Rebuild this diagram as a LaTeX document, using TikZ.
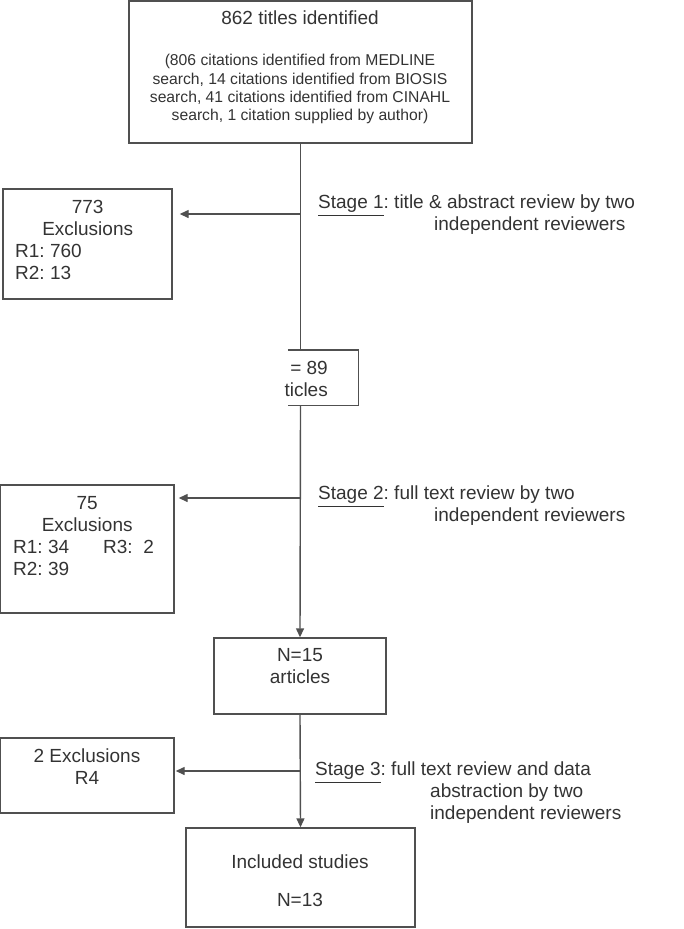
\documentclass[tikz,border=0pt]{standalone}
\usepackage{amsmath}
\usepackage{xcolor}
\usepackage{fontspec}
\setmainfont{Liberation Sans}
\usepackage{tikz}
\usetikzlibrary{arrows.meta}
\frenchspacing

\definecolor{linegray}{HTML}{505050}
\definecolor{textgray}{HTML}{333333}
\newcommand{\mainsz}{\fontsize{19}{22}\selectfont}
\newcommand{\smallsz}{\fontsize{15.7}{18.3}\selectfont}

\tikzset{
    box/.style={draw=linegray, line width=1.4pt, inner sep=0pt},
    txt/.style={text=textgray, font=\mainsz, inner sep=0pt},
    arr/.style={draw=linegray, line width=1.4pt, -{Triangle[length=9pt,width=8pt]}}
}

\begin{document}
\begin{tikzpicture}[x=1pt,y=-1pt]
            \useasboundingbox (0,0) rectangle (684,929);

            % boxes
            \node[box, minimum width=343pt, minimum height=142pt] (top) at (300.5,72) {};
            \node[box, minimum width=169pt, minimum height=110pt] (ex1) at (87.5,244) {};
            \node[inner sep=0pt, minimum width=70pt, minimum height=55pt] (n89) at (323,377.5) {};
            \node[box, minimum width=174pt, minimum height=128pt] (ex2) at (87,549) {};
            \node[box, minimum width=172pt, minimum height=76pt] (n15) at (300,676) {};
            \node[box, minimum width=174pt, minimum height=75pt] (ex3) at (87,775.5) {};
            \node[box, minimum width=229pt, minimum height=99pt] (incl) at (300.5,877.5) {};

            \draw[linegray, line width=1.4pt] (n89.north west) -- (n89.north east) -- (n89.south east) -- (n89.south west);

            % texts (multi-line ones sit on the baseline of their last line)
            \node[txt, anchor=base] (ttop) at (300,24.8) {862 titles identified};
            \node[txt, font=\smallsz, align=center, anchor=base] (tcit) at (300,120.6)
                {(806 citations identified from MEDLINE\\search, 14 citations identified from BIOSIS\\search, 41 citations identified from CINAHL\\search, 1 citation supplied by author)};

            \node[txt, align=left, anchor=base west] (tex1) at (15,279.8)
                {\makebox[145pt]{773}\\\makebox[145pt]{Exclusions}\\R1: 760\\R2: 13};
            \node[txt, align=right, anchor=base east] (t89) at (328,396.8) {= 89\\ticles};
            \node[txt, align=left, anchor=base west] (tex2) at (13,575.8)
                {\makebox[148pt]{75}\\\makebox[148pt]{Exclusions}\\\makebox[90pt][l]{R1: 34}R3: \ 2\\R2: 39};
            \node[txt, align=center, anchor=base] (t15) at (300,683.8) {N=15\\articles};
            \node[txt, align=center, anchor=base] (tex3) at (87,784.8) {2 Exclusions\\R4};
            \node[txt, align=center, anchor=base] (tincl) at (300,906.8) {Included studies\\[16pt]N=13};

            \node[txt, align=left, anchor=base west] (st1) at (318,230.8)
                {\underline{Stage 1}: title \& abstract review by two\\\hspace*{116pt}independent reviewers};
            \node[txt, align=left, anchor=base west] (st2) at (318,521.8)
                {\underline{Stage 2}: full text review by two\\\hspace*{116pt}independent reviewers};
            \node[txt, align=left, anchor=base west] (st3) at (315,819.8)
                {\underline{Stage 3}: full text review and data\\\hspace*{115pt}abstraction by two\\\hspace*{115pt}independent reviewers};

            % connectors
            \coordinate (s1) at (300.5,214);
            \coordinate (s2) at (300.5,498);
            \coordinate (s3) at (300.5,771);

            \draw[linegray, line width=1.4pt] (top.south) -- (top.south |- n89.north);
            \draw[arr, shorten >=7pt] (s1) -- (s1 -| ex1.east);
            \draw[arr] (n89.south -| top.south) -- (n15.north);
            \draw[arr, shorten >=4pt] (s2) -- (s2 -| ex2.east);
            \draw[arr] (n15.south) -- (incl.north);
            \draw[arr, shorten >=1pt] (s3) -- (s3 -| ex3.east);
        \end{tikzpicture}
\end{document}
